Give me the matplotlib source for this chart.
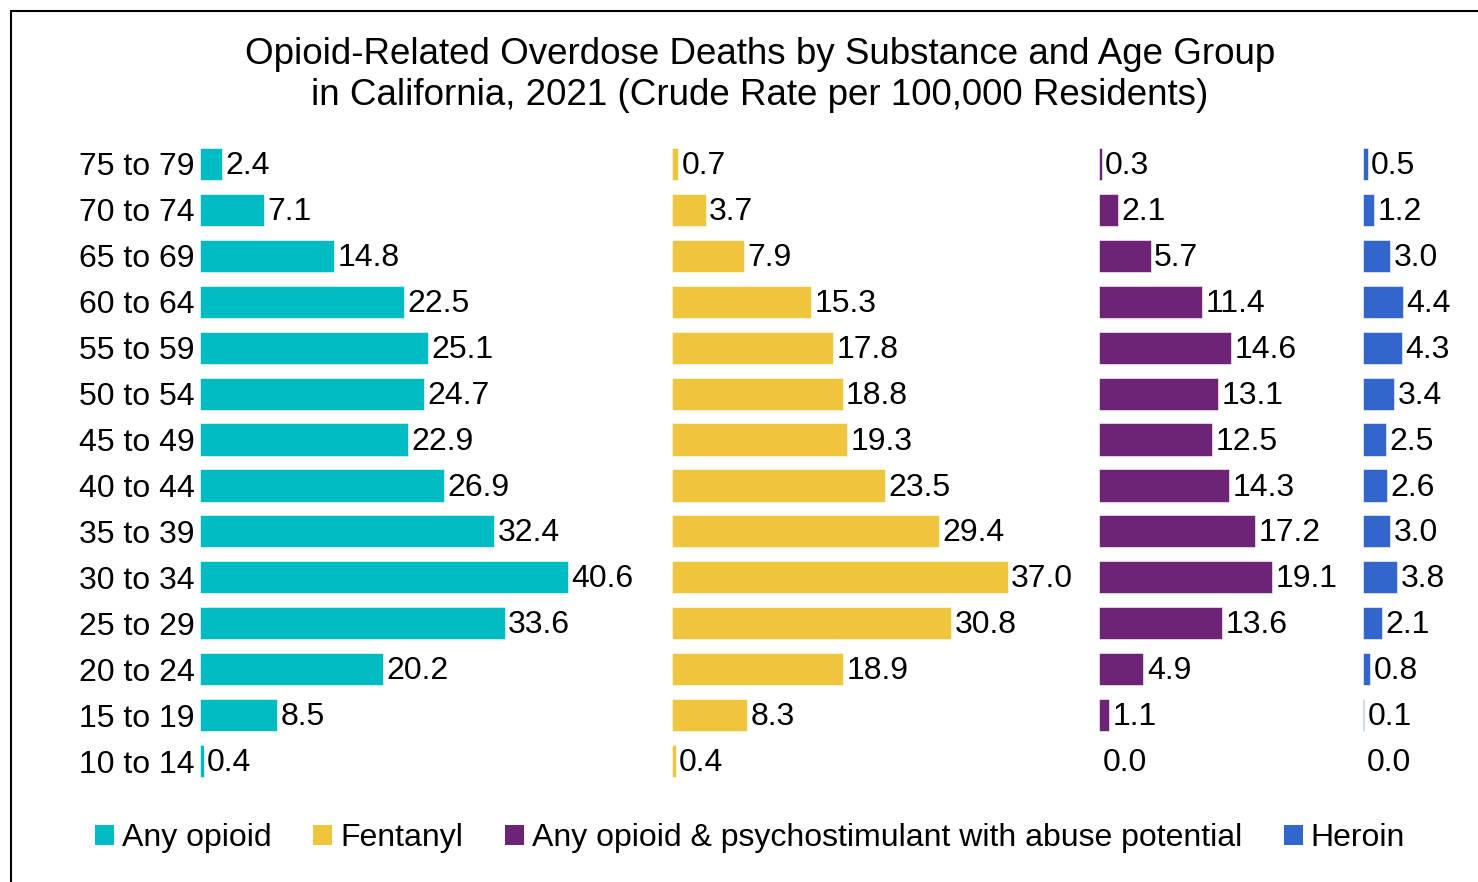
import matplotlib
matplotlib.use("Agg")
import matplotlib.pyplot as plt
import matplotlib.patches as patches

plt.rcParams['font.family'] = ['Liberation Sans', 'DejaVu Sans']

ages = ['10 to 14', '15 to 19', '20 to 24', '25 to 29', '30 to 34', '35 to 39', '40 to 44',
        '45 to 49', '50 to 54', '55 to 59', '60 to 64', '65 to 69', '70 to 74', '75 to 79']
any_opioid = [0.4, 8.5, 20.2, 33.6, 40.6, 32.4, 26.9, 22.9, 24.7, 25.1, 22.5, 14.8, 7.1, 2.4]
fentanyl = [0.4, 8.3, 18.9, 30.8, 37.0, 29.4, 23.5, 19.3, 18.8, 17.8, 15.3, 7.9, 3.7, 0.7]
psychostim = [0.0, 1.1, 4.9, 13.6, 19.1, 17.2, 14.3, 12.5, 13.1, 14.6, 11.4, 5.7, 2.1, 0.3]
heroin = [0.0, 0.1, 0.8, 2.1, 3.8, 3.0, 2.6, 2.5, 3.4, 4.3, 4.4, 3.0, 1.2, 0.5]

series = [
    ('Any opioid', any_opioid, '#00BBC1'),
    ('Fentanyl', fentanyl, '#EEC53C'),
    ('Any opioid & psychostimulant with abuse potential', psychostim, '#6D2476'),
    ('Heroin', heroin, '#3366CC'),
]

W, H = 1478, 882
fig = plt.figure(figsize=(W / 100, H / 100), dpi=100)

# same scale (px per unit) on every panel
scale = 9.07
starts = [200, 672, 1099, 1363]
ends = [672, 1099, 1363, 1478]
top, bottom = 141, 784

for k, (name, vals, color) in enumerate(series):
    x0, x1 = starts[k], ends[k]
    ax = fig.add_axes([x0 / W, 1 - bottom / H, (x1 - x0) / W, (bottom - top) / H])
    ax.barh(range(len(ages)), vals, height=0.7, color=color, edgecolor='white', linewidth=0.4)
    ax.set_xlim(0, (x1 - x0) / scale)
    ax.set_ylim(-0.5, len(ages) - 0.5)
    for i, v in enumerate(vals):
        ax.annotate(f'{v:.1f}', (v, i), xytext=(2.5, -1.5), textcoords='offset points',
                    va='center', ha='left', fontsize=23)
    for sp in ax.spines.values():
        sp.set_visible(False)
    ax.set_xticks([])
    if k == 0:
        ax.set_yticks(range(len(ages)))
        ax.set_yticklabels(ages, fontsize=23)
        ax.tick_params(axis='y', length=0, pad=4)
    else:
        ax.set_yticks([])
    ax.patch.set_alpha(0)

fig.text(760 / W, 1 - 75 / H,
         'Opioid-Related Overdose Deaths by Substance and Age Group\n'
         'in California, 2021 (Crude Rate per 100,000 Residents)',
         ha='center', va='center', fontsize=26.5, linespacing=1.22)

handles = [patches.Patch(facecolor=c, label=n) for n, _, c in series]
fig.legend(handles=handles, loc='center', bbox_to_anchor=(750 / W, 1 - 838 / H), ncol=4,
           frameon=False, fontsize=23, handlelength=0.6, handleheight=0.6,
           handletextpad=0.25, columnspacing=1.3)

fig.add_artist(patches.Rectangle((11 / W, -0.1), 2, 1 - 11 / H + 0.1, transform=fig.transFigure,
                                 fill=False, edgecolor='black', linewidth=1.5))

fig.savefig('out.png', dpi=100)
